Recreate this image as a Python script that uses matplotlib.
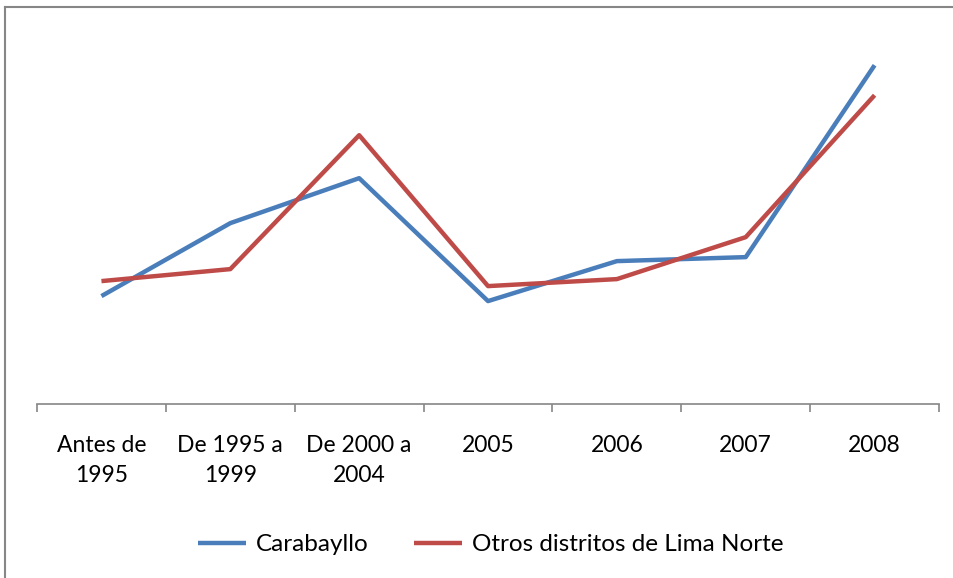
import matplotlib.pyplot as plt
from matplotlib.lines import Line2D

plt.rcParams['font.family'] = ['Lato', 'DejaVu Sans']

categorias = ['Antes de\n1995', 'De 1995 a\n1999', 'De 2000 a\n2004', '2005', '2006', '2007', '2008']
carabayllo = [108, 181, 226, 103, 143, 147, 339]
otros = [123, 135, 269, 118, 125, 167, 309]

azul = '#4A7EBB'
rojo = '#BE4B48'

fig = plt.figure(figsize=(9.54, 5.78), dpi=100)
ax = fig.add_axes([0.0388, 0.301, 0.9455, 0.657])

x = range(len(categorias))
ax.plot(x, carabayllo, color=azul, linewidth=3.2, solid_capstyle='butt', label='Carabayllo')
ax.plot(x, otros, color=rojo, linewidth=3.2, solid_capstyle='butt', label='Otros distritos de Lima Norte')

ax.set_xlim(-0.5, len(categorias) - 0.5)
ax.set_ylim(0, 380)
ax.set_yticks([])
for s in ['top', 'right', 'left']:
    ax.spines[s].set_visible(False)
ax.spines['bottom'].set_color('#868686')
ax.spines['bottom'].set_linewidth(1.2)

# ticks between categories, labels at centres
ax.set_xticks([i - 0.5 for i in range(len(categorias) + 1)], minor=False)
ax.set_xticklabels([])
ax.tick_params(axis='x', which='major', length=6, width=1.2, color='#868686', direction='out')
ax.set_xticks(list(x), minor=True)
ax.set_xticklabels(categorias, minor=True, fontsize=16.5, linespacing=1.55)
ax.tick_params(axis='x', which='minor', length=0, pad=22)

leg = ax.legend(loc='center', bbox_to_anchor=(0.503, -0.37), ncol=2, frameon=False,
                fontsize=17.5, handlelength=1.95, columnspacing=1.9, handletextpad=0.4)

# chart frame (partially visible)
fig.add_artist(Line2D([0.005, 0.005], [0, 0.988], color='#868686', linewidth=1.5, transform=fig.transFigure))
fig.add_artist(Line2D([0.005, 1.0], [0.988, 0.988], color='#868686', linewidth=1.5, transform=fig.transFigure))

fig.savefig('out.png', dpi=100)
